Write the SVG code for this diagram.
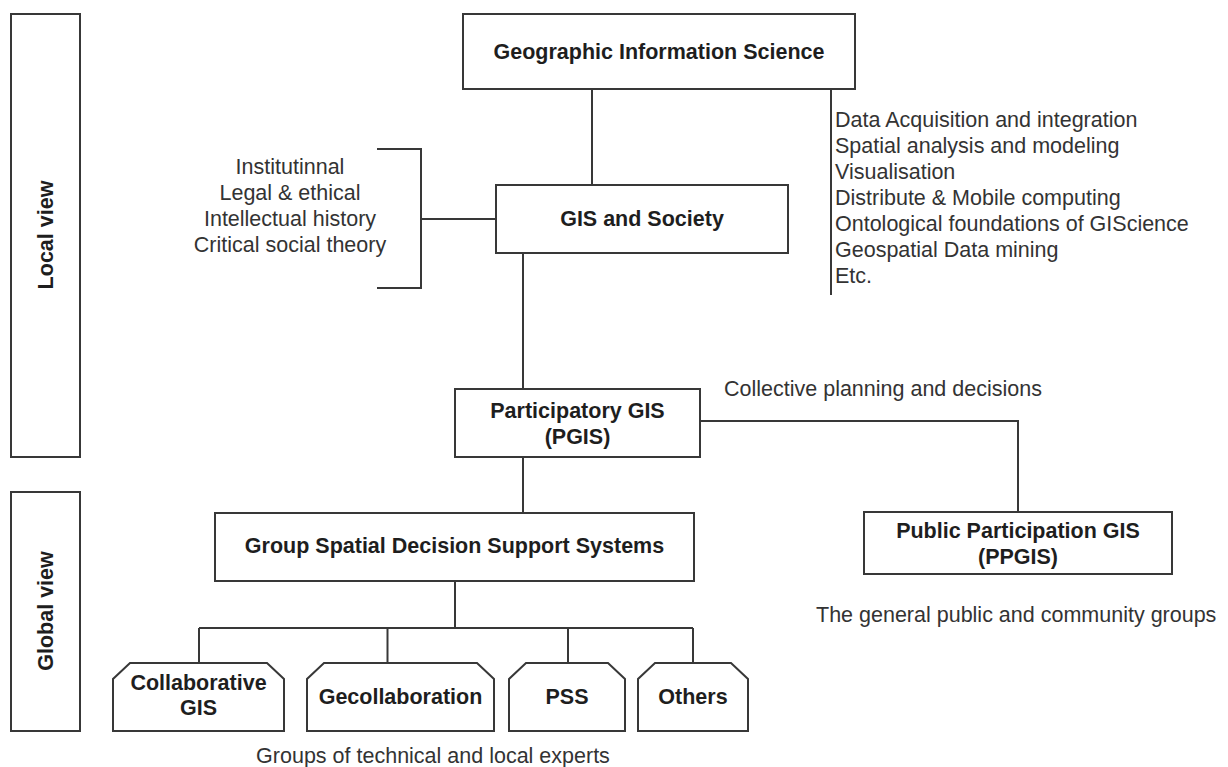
<svg xmlns="http://www.w3.org/2000/svg" width="1228" height="767" viewBox="0 0 1228 767">
  <style>
    .box { fill: #ffffff; stroke: #383838; stroke-width: 2; }
    .wire { fill: none; stroke: #383838; stroke-width: 2; }
    .title { font-family: "Liberation Sans", Arial, sans-serif; font-size: 21.5px; font-weight: bold; fill: #1e1e1e; text-anchor: middle; }
    .note { font-family: "Liberation Sans", Arial, sans-serif; font-size: 21.5px; fill: #333333; }
    .mid { text-anchor: middle; }
  </style>
  <rect width="1228" height="767" fill="#ffffff"/>

  <!-- view bands on the left -->
  <g id="local-view">
    <rect class="box" x="11" y="14" width="69" height="443"/>
    <text class="title" transform="translate(52.5,235) rotate(-90)">Local view</text>
  </g>
  <g id="global-view">
    <rect class="box" x="11" y="492" width="69" height="239"/>
    <text class="title" transform="translate(52.5,611) rotate(-90)">Global view</text>
  </g>

  <!-- connectors -->
  <g id="connectors">
    <path class="wire" d="M592 89 V185"/>
    <path class="wire" d="M831 89 V295"/>
    <path class="wire" d="M377 149 H421 V288 H377"/>
    <path class="wire" d="M421 219 H496"/>
    <path class="wire" d="M523 253 V389"/>
    <path class="wire" d="M700 421 H1018 V512"/>
    <path class="wire" d="M523 457 V513"/>
    <path class="wire" d="M455 581 V628"/>
    <path class="wire" d="M199 628 H693"/>
    <path class="wire" d="M199 628 V663"/>
    <path class="wire" d="M387.5 628 V663"/>
    <path class="wire" d="M568 628 V663"/>
    <path class="wire" d="M693 628 V663"/>
  </g>

  <g id="giscience">
    <rect class="box" x="463" y="14" width="392" height="75"/>
    <text class="title" x="659" y="59">Geographic Information Science</text>
  </g>

  <g id="giscience-topics">
    <text class="note" x="835" y="127">Data Acquisition and integration</text>
    <text class="note" x="835" y="153">Spatial analysis and modeling</text>
    <text class="note" x="835" y="179">Visualisation</text>
    <text class="note" x="835" y="205">Distribute &amp; Mobile computing</text>
    <text class="note" x="835" y="231">Ontological foundations of GIScience</text>
    <text class="note" x="835" y="257">Geospatial Data mining</text>
    <text class="note" x="835" y="283">Etc.</text>
  </g>

  <g id="society-topics">
    <text class="note mid" x="290" y="173.5">Institutinnal</text>
    <text class="note mid" x="290" y="199.5">Legal &amp; ethical</text>
    <text class="note mid" x="290" y="225.5">Intellectual history</text>
    <text class="note mid" x="290" y="251.5">Critical social theory</text>
  </g>

  <g id="gis-society">
    <rect class="box" x="496" y="185" width="292" height="68"/>
    <text class="title" x="642" y="226">GIS and Society</text>
  </g>

  <g id="pgis">
    <rect class="box" x="455" y="389" width="245" height="68"/>
    <text class="title" x="577.5" y="417.7">Participatory GIS</text>
    <text class="title" x="577.5" y="443.7">(PGIS)</text>
  </g>
  <text class="note" x="724" y="396">Collective planning and decisions</text>

  <g id="ppgis">
    <rect class="box" x="864" y="512" width="308" height="62"/>
    <text class="title" x="1018" y="537.5">Public Participation GIS</text>
    <text class="title" x="1018" y="563.5">(PPGIS)</text>
  </g>
  <text class="note" x="816" y="622">The general public and community groups</text>

  <g id="gsdss">
    <rect class="box" x="215" y="513" width="479" height="68"/>
    <text class="title" x="454.5" y="553">Group Spatial Decision Support Systems</text>
  </g>

  <!-- chamfered leaf nodes -->
  <g id="collaborative-gis">
    <path class="box" d="M113 731 V679 L130 663 H267 L284 679 V731 Z"/>
    <text class="title" x="198.5" y="690">Collaborative</text>
    <text class="title" x="198.5" y="715">GIS</text>
  </g>
  <g id="gecollaboration">
    <path class="box" d="M307 731 V679 L324 663 H477 L494 679 V731 Z"/>
    <text class="title" x="400.5" y="704">Gecollaboration</text>
  </g>
  <g id="pss">
    <path class="box" d="M509 731 V679 L526 663 H608 L625 679 V731 Z"/>
    <text class="title" x="567" y="704">PSS</text>
  </g>
  <g id="others">
    <path class="box" d="M638 731 V679 L655 663 H731 L748 679 V731 Z"/>
    <text class="title" x="693" y="704">Others</text>
  </g>
  <text class="note mid" x="433" y="763">Groups of technical and local experts</text>
</svg>
